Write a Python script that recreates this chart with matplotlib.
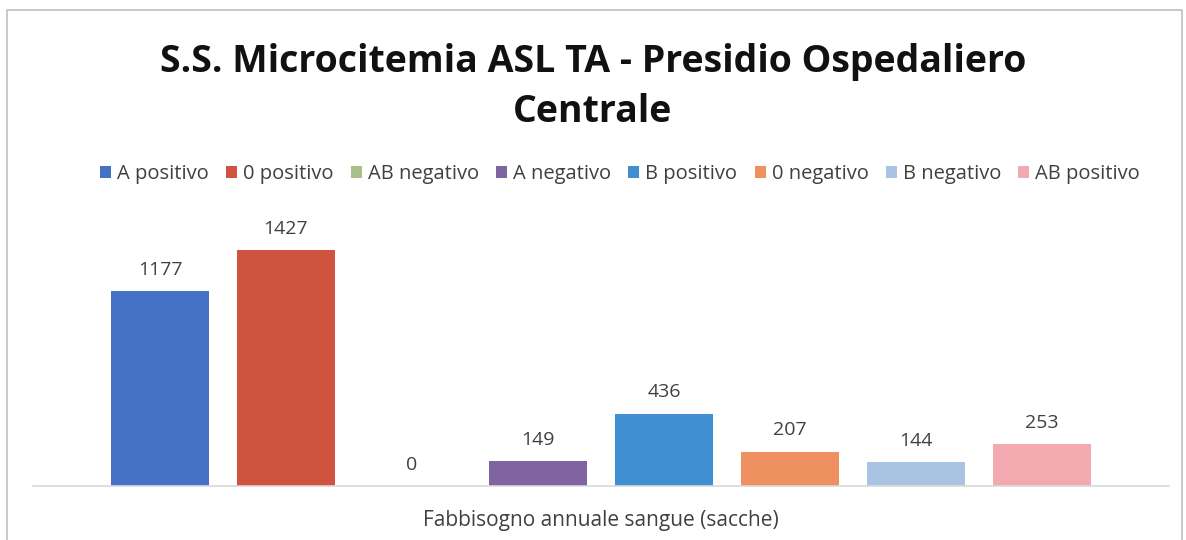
import matplotlib
matplotlib.use("Agg")
import matplotlib.pyplot as plt
from matplotlib.patches import Rectangle

groups = ["A positivo", "0 positivo", "AB negativo", "A negativo",
          "B positivo", "0 negativo", "B negativo", "AB positivo"]
values = [1177, 1427, 0, 149, 436, 207, 144, 253]
colors = ["#4472C4", "#D0533F", "#A9C08A", "#8064A2",
          "#3F8FD2", "#EE9060", "#A9C3E3", "#F2AAB0"]
category = "Fabbisogno annuale sangue (sacche)"
title = "S.S. Microcitemia ASL TA - Presidio Ospedaliero\nCentrale"

plt.rcParams["font.family"] = ["Open Sans", "DejaVu Sans"]

fig = plt.figure(figsize=(11.86, 5.40), dpi=100)
ax = fig.add_axes([33 / 1186, 0.10, (1169 - 33) / 1186, 0.49])

step = 126 / 1136
width = 98 / 1136
for i, (name, val, col) in enumerate(zip(groups, values, colors)):
    x = (i - 3.5) * step
    bars = ax.bar(x, val, width=width, color=col, label=name)
    ax.bar_label(bars, labels=[str(val)], padding=9,
                 fontsize=14, color="#404040")

ax.set_xlim(-0.5, 0.5)
ax.set_ylim(0, 1600)
ax.set_yticks([])
ax.set_xticks([])
for side in ["top", "right", "left"]:
    ax.spines[side].set_visible(False)
ax.spines["bottom"].set_color("#D9D9D9")
ax.spines["bottom"].set_linewidth(1.2)

ax.set_xlabel(category, fontsize=15, color="#404040", labelpad=17)

fig.text(0.5, 1 - 87 / 540, title, ha="center", va="center",
         fontsize=27, fontweight="bold", color="#111111", linespacing=1.38)

fig.legend(loc="center", bbox_to_anchor=(620 / 1186, 1 - 174 / 540), ncol=8,
           frameon=False, fontsize=14.5, handlelength=0.55, handleheight=0.55,
           handletextpad=0.3, columnspacing=0.85,
           labelcolor="#404040")

fig.patches.append(Rectangle((7 / 1186, -0.01), (1182 - 7) / 1186, 1 - 10 / 540 + 0.01,
                             transform=fig.transFigure, fill=False,
                             edgecolor="#BFBFBF", linewidth=1.2))

fig.savefig("out.png", dpi=100)
